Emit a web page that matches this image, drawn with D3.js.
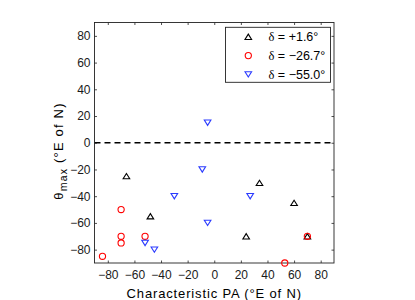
<!DOCTYPE html>
<html><head><meta charset="utf-8">
<script src="https://cdn.jsdelivr.net/npm/d3@7"></script>
<style>body{margin:0;background:#fff}svg{display:block}text{font-family:"Liberation Sans",Arial,sans-serif}</style>
</head><body>
<svg id="c" width="415" height="300"></svg>
<script>
const series = [
  {name: "+1.6°", symbol: "up", color: "#000000",
   xs: [-66, -48, 24, 34, 60, 70], ys: [-25, -55, -70, -30, -45, -70]},
  {name: "\u221226.7°", symbol: "circle", color: "#ff0000",
   xs: [-84, -70, -70, -70, -52, 53, 70], ys: [-85, -50, -70, -75, -70, -90, -70]},
  {name: "\u221255.0°", symbol: "down", color: "#2b3bff",
   xs: [-5, -9, -30, 27, -5, -52, -45], ys: [15, -20, -40, -40, -60, -75, -80]}
];
const xTicks = [-80, -60, -40, -20, 0, 20, 40, 60, 80];
const yTicks = [-80, -60, -40, -20, 0, 20, 40, 60, 80];

const svg = d3.select("#c");
const L = 94.5, R = 334, T = 22.5, B = 263;
const x = d3.scaleLinear().domain([-90, 90]).range([L, R]);
const y = d3.scaleLinear().domain([-90, 90]).range([B, T]);
const axColor = "#222";
const fmt = d => d < 0 ? "\u2212" + Math.abs(d) : String(d);

// zero line
svg.append("line").attr("x1", x(-90)).attr("x2", x(90)).attr("y1", y(0)).attr("y2", y(0))
  .attr("stroke", "#000").attr("stroke-width", 1.3).attr("stroke-dasharray", "6,4");

// axes
const tk = 2.5;
const gx = svg.append("g").attr("transform", `translate(0,${B})`)
  .call(d3.axisBottom(x).tickValues(xTicks).tickFormat(fmt).tickSizeInner(-tk).tickSizeOuter(0).tickPadding(7.5));
const gxt = svg.append("g").attr("transform", `translate(0,${T})`)
  .call(d3.axisTop(x).tickValues(xTicks).tickFormat("").tickSizeInner(-tk).tickSizeOuter(0));
const gy = svg.append("g").attr("transform", `translate(${L},0)`)
  .call(d3.axisLeft(y).tickValues(yTicks).tickFormat(fmt).tickSizeInner(-tk).tickSizeOuter(0).tickPadding(4));
const gyr = svg.append("g").attr("transform", `translate(${R},0)`)
  .call(d3.axisRight(y).tickValues(yTicks).tickFormat("").tickSizeInner(-tk).tickSizeOuter(0));
[gx, gxt, gy, gyr].forEach(g => {
  g.select(".domain").remove();
  g.selectAll("line").attr("stroke", axColor).attr("stroke-width", 0.8);
  g.selectAll("text").attr("fill", "#1a1a1a").style("font-size", "12px").style("font-family", "Liberation Sans, Arial, sans-serif");
});
svg.append("rect").attr("x", L).attr("y", T).attr("width", R - L).attr("height", B - T)
  .attr("fill", "none").attr("stroke", axColor).attr("stroke-width", 0.9);

// markers
function drawMarker(g, sym, cx, cy, color) {
  if (sym === "circle") {
    g.append("circle").attr("cx", cx).attr("cy", cy).attr("r", 3.1)
      .attr("fill", "none").attr("stroke", color).attr("stroke-width", 1.1);
  } else {
    const h = 5.3, w = 6.6;
    const pts = sym === "up"
      ? [[cx, cy - h / 2], [cx + w / 2, cy + h / 2], [cx - w / 2, cy + h / 2]]
      : [[cx, cy + h / 2], [cx + w / 2, cy - h / 2], [cx - w / 2, cy - h / 2]];
    g.append("polygon").attr("points", pts.map(p => p.join(",")).join(" "))
      .attr("fill", "none").attr("stroke", color).attr("stroke-width", 1.1);
  }
}
const gm = svg.append("g");
series.forEach(s => {
  s.xs.forEach((v, i) => drawMarker(gm, s.symbol, x(v), y(s.ys[i]), s.color));
});

// legend
const lg = svg.append("g");
lg.append("rect").attr("x", 225.5).attr("y", 27.3).attr("width", 105).attr("height", 55)
  .attr("fill", "#fff").attr("stroke", axColor).attr("stroke-width", 0.9);
series.forEach((s, i) => {
  const yy = 36.8 + i * 18.8;
  drawMarker(lg, s.symbol, 248.3, yy, s.color);
  const t = lg.append("text").attr("x", 268.5).attr("y", yy + 4.3).style("font-size", "12.5px").attr("fill", "#000");
  t.append("tspan").style("font-family", "Liberation Serif, serif").text("\u03b4");
  t.append("tspan").text(" = " + s.name);
});

// axis labels
svg.append("text").attr("x", (L + R) / 2).attr("y", 297.5).attr("text-anchor", "middle")
  .style("font-size", "13px").style("letter-spacing", "0.85px").attr("fill", "#000")
  .text("Characteristic PA (°E of N)");
const yl = svg.append("text").attr("transform", `translate(63,151) rotate(-90)`)
  .attr("text-anchor", "middle").style("font-size", "13px").style("letter-spacing", "1.2px").attr("fill", "#000");
yl.append("tspan").text("\u03b8");
yl.append("tspan").attr("dy", 4).style("font-size", "10.5px").text("max");
yl.append("tspan").attr("dy", -4).text(" (°E of N)");
</script>
</body></html>
